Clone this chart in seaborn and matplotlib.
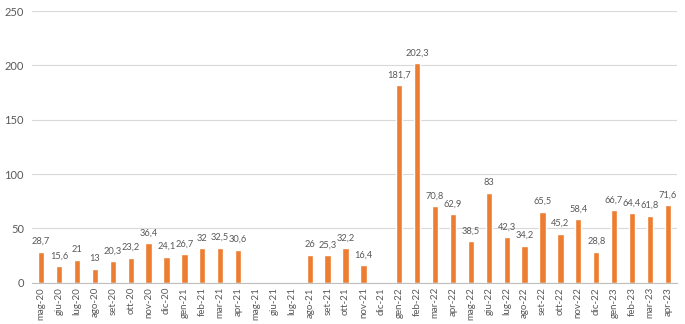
import numpy as np
import pandas as pd
import matplotlib
matplotlib.use("Agg")
import matplotlib.pyplot as plt
import seaborn as sns

months = ["mag-20", "giu-20", "lug-20", "ago-20", "set-20", "ott-20", "nov-20", "dic-20",
          "gen-21", "feb-21", "mar-21", "apr-21", "mag-21", "giu-21", "lug-21", "ago-21",
          "set-21", "ott-21", "nov-21", "dic-21", "gen-22", "feb-22", "mar-22", "apr-22",
          "mag-22", "giu-22", "lug-22", "ago-22", "set-22", "ott-22", "nov-22", "dic-22",
          "gen-23", "feb-23", "mar-23", "apr-23"]
values = [28.7, 15.6, 21, 13, 20.3, 23.2, 36.4, 24.1,
          26.7, 32, 32.5, 30.6, np.nan, np.nan, np.nan, 26,
          25.3, 32.2, 16.4, np.nan, 181.7, 202.3, 70.8, 62.9,
          38.5, 83, 42.3, 34.2, 65.5, 45.2, 58.4, 28.8,
          66.7, 64.4, 61.8, 71.6]
y_ticks = [0, 50, 100, 150, 200, 250]

sns.set_theme(style="white")
plt.rcParams["font.family"] = ["Lato", "DejaVu Sans"]

df = pd.DataFrame({"mese": months, "valore": values})

fig = plt.figure(figsize=(6.85, 3.24), dpi=100)
ax = fig.add_axes([0.047, 0.127, 0.941, 0.839])

sns.barplot(data=df.dropna(), x="mese", y="valore", order=months,
            color="#ED7D31", saturation=1, width=0.35, ax=ax)

def fmt(v):
    s = f"{v:g}"
    return s.replace(".", ",")

for i, v in enumerate(values):
    if not np.isnan(v):
        ax.annotate(fmt(v), (i, v), xytext=(0, 4), textcoords="offset points",
                    ha="center", va="bottom", fontsize=6.7, color="#595959")

ax.set_ylim(0, 250)
ax.set_yticks(y_ticks)
ax.set_yticklabels([str(t) for t in y_ticks], fontsize=8, color="#595959")
ax.set_xlim(-0.5, len(months) - 0.5)
ax.set_xticks(range(len(months)))
ax.set_xticklabels(months, rotation=90, fontsize=7, color="#595959")
ax.set_xticks(np.arange(-0.5, len(months), 1), minor=True)
ax.tick_params(axis="x", which="major", length=0, pad=3)
ax.tick_params(axis="x", which="minor", length=4, color="#BFBFBF", width=0.8, direction="out")
ax.tick_params(axis="y", length=0, pad=6)
ax.set_xlabel("")
ax.set_ylabel("")
ax.grid(axis="y", color="#D9D9D9", linewidth=0.8)
ax.set_axisbelow(True)
for s in ["top", "right", "left"]:
    ax.spines[s].set_visible(False)
ax.spines["bottom"].set_color("#BFBFBF")
ax.spines["bottom"].set_linewidth(0.8)

fig.savefig("out.png", dpi=100)
